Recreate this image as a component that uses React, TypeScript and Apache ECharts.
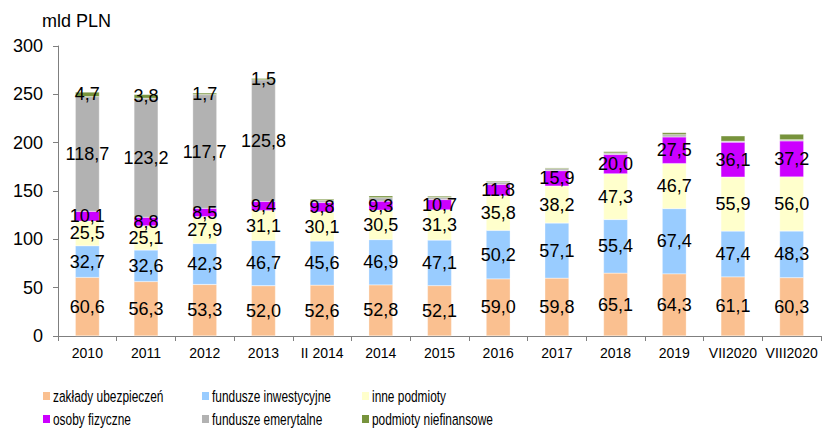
import React, { useEffect, useRef } from "react";
import * as echarts from "echarts";

const categories = ["2010", "2011", "2012", "2013", "II 2014", "2014", "2015", "2016", "2017", "2018", "2019", "VII2020", "VIII2020"];
const seriesNames = ["zakłady ubezpieczeń", "fundusze inwestycyjne", "inne podmioty", "osoby fizyczne", "fundusze emerytalne", "podmioty niefinansowe"];
const zaklady = [60.6, 56.3, 53.3, 52.0, 52.6, 52.8, 52.1, 59.0, 59.8, 65.1, 64.3, 61.1, 60.3];
const inwestycyjne = [32.7, 32.6, 42.3, 46.7, 45.6, 46.9, 47.1, 50.2, 57.1, 55.4, 67.4, 47.4, 48.3];
const inne = [25.5, 25.1, 27.9, 31.1, 30.1, 30.5, 31.3, 35.8, 38.2, 47.3, 46.7, 55.9, 56.0];
const osoby = [10.1, 8.8, 8.5, 9.4, 9.8, 9.3, 10.7, 11.8, 15.9, 20.0, 27.5, 36.1, 37.2];
const emerytalne = [118.7, 123.2, 117.7, 125.8, 2.0, 3.5, 2.0, 2.5, 2.0, 1.5, 2.3, 1.0, 1.2];
const niefinansowe = [4.7, 3.8, 1.7, 1.5, 1.5, 2.0, 1.5, 1.0, 1.0, 1.5, 2.2, 5.5, 5.8];
const labeledCount = [13, 13, 13, 13, 4, 4];
const colors = ["#FAC090", "#99CCFF", "#FFFFCC", "#CC00FF", "#B2B2B2", "#77933C"];

const FONT = "'Liberation Sans', Arial, sans-serif";

export default function App() {
  const ref = useRef<HTMLDivElement>(null);
  useEffect(() => {
    if (!ref.current) return;
    const chart = echarts.init(ref.current, null, { renderer: "svg" });
    const values = [zaklady, inwestycyjne, inne, osoby, emerytalne, niefinansowe];
    const legendPos = [
      { x: 43, y: 396 },
      { x: 202, y: 396 },
      { x: 362, y: 396 },
      { x: 43, y: 419 },
      { x: 202, y: 419 },
      { x: 362, y: 419 },
    ];
    const legendGraphics = seriesNames.map((n, i) => ({
      type: "group",
      x: legendPos[i].x,
      y: legendPos[i].y,
      children: [
        { type: "rect", shape: { x: 0, y: -4, width: 7, height: 8 }, style: { fill: colors[i] } },
        {
          type: "text",
          x: 10,
          y: 0,
          scaleX: 0.7,
          style: {
            text: n,
            fontFamily: FONT,
            fontSize: 17,
            fill: "#000",
            verticalAlign: "middle",
            align: "left",
          },
        },
      ],
    }));
    const option: any = {
      animation: false,
      backgroundColor: "#ffffff",
      textStyle: { fontFamily: FONT },
      grid: { left: 58, right: 16, top: 46, bottom: 95, containLabel: false },
      graphic: [
        {
          type: "text",
          left: 42,
          top: 12,
          style: { text: "mld PLN", fontFamily: FONT, fontSize: 18, fill: "#000" },
        },
        ...legendGraphics,
      ],
      xAxis: {
        type: "category",
        data: categories,
        axisLine: { show: true, lineStyle: { color: "#7f7f7f", width: 1 } },
        axisTick: { show: true, length: 5, lineStyle: { color: "#7f7f7f" } },
        axisLabel: { color: "#000", fontSize: 14, fontFamily: FONT, margin: 10, interval: 0 },
      },
      yAxis: {
        type: "value",
        min: 0,
        max: 300,
        interval: 50,
        axisLine: { show: true, lineStyle: { color: "#7f7f7f", width: 1 } },
        axisTick: { show: true, length: 5, lineStyle: { color: "#7f7f7f" } },
        splitLine: { show: false },
        axisLabel: { color: "#000", fontSize: 18, fontFamily: FONT, margin: 15 },
      },
      series: seriesNames.map((n, i) => ({
        name: n,
        type: "bar",
        stack: "total",
        barWidth: 24,
        data: values[i],
        itemStyle: { color: colors[i], borderColor: "#ffffff", borderWidth: 0.3 },
        label: {
          show: true,
          position: "inside",
          color: "#000",
          fontSize: 18,
          fontFamily: FONT,
          formatter: (p: any) =>
            p.dataIndex < labeledCount[i] ? Number(p.value).toFixed(1).replace(".", ",") : "",
        },
      })),
    };
    chart.setOption(option);
    return () => chart.dispose();
  }, []);
  return (
    <div
      ref={ref}
      style={{ position: "fixed", left: 0, top: 0, width: 837, height: 431, background: "#fff" }}
    />
  );
}
